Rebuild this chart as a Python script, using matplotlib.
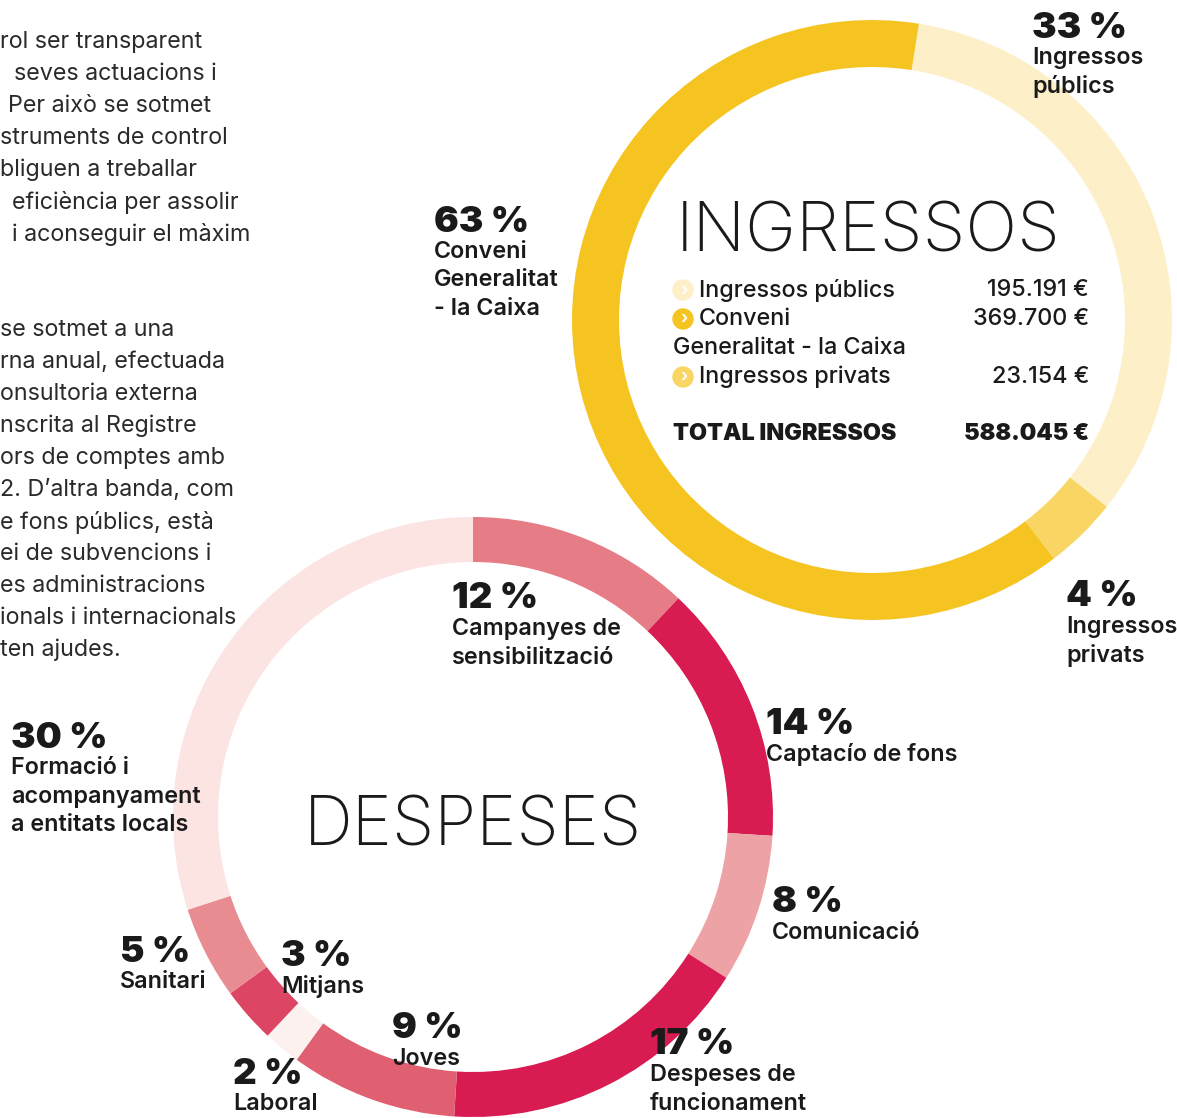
import matplotlib.pyplot as plt
from matplotlib.patches import Circle

plt.rcParams['font.family'] = ['Inter', 'DejaVu Sans']

# Ingressos (clockwise order from top)
ing_labels = ["Ingressos públics", "Ingressos privats", "Conveni Generalitat - la Caixa"]
ing_values = [195191, 23154, 369700]
ing_colors = ["#FDF0C9", "#F9D564", "#F5C421"]
ing_total = "588.045 €"
ing_amounts = ["195.191 €", "23.154 €", "369.700 €"]

# Despeses (clockwise order from top)
desp_labels = ["Campanyes de\nsensibilització", "Captacío de fons", "Comunicació",
               "Despeses de\nfuncionament", "Joves", "Laboral", "Mitjans", "Sanitari",
               "Formació i\nacompanyament\na entitats locals"]
desp_values = [12, 14, 8, 17, 9, 2, 3, 5, 30]
desp_colors = ["#E67C85", "#D81B50", "#EDA3A5", "#D81B50", "#E05F70",
               "#FDF1EF", "#DC4563", "#E88C92", "#FBE4E1"]

para1 = ["rol ser transparent", "seves actuacions i", "Per això se sotmet",
         "struments de control", "bliguen a treballar", "eficiència per assolir",
         "i aconseguir el màxim"]
para1_x = [0, 14, 8, 0, 0, 12, 12]
para2 = ["se sotmet a una", "rna anual, efectuada", "onsultoria externa",
         "nscrita al Registre", "ors de comptes amb", "2. D’altra banda, com",
         "e fons públics, està", "ei de subvencions i", "es administracions",
         "ionals i internacionals", "ten ajudes."]

W, H = 1177, 1118
fig = plt.figure(figsize=(W / 100, H / 100), dpi=100)
ax = fig.add_axes([0, 0, 1, 1])

def Y(y):
    return H - y

ax.pie(ing_values, colors=ing_colors, startangle=81, counterclock=False,
       center=(872, Y(320)), radius=300, wedgeprops=dict(width=47, linewidth=0))
ax.pie(desp_values, colors=desp_colors, startangle=90, counterclock=False,
       center=(473, Y(817)), radius=300, wedgeprops=dict(width=45, linewidth=0))
ax.set_xlim(0, W)
ax.set_ylim(0, H)
ax.set_aspect('auto')
ax.axis('off')

ink = "#1a1a1a"

# left paragraph (cut by page edge)
for i, (t, x) in enumerate(zip(para1, para1_x)):
    ax.text(x, Y(42 + 32 * i), t, fontsize=16.8, color="#2a2a2a", va='center', ha='left')
for i, t in enumerate(para2):
    ax.text(0, Y(330 + 32 * i), t, fontsize=16.8, color="#2a2a2a", va='center', ha='left')

# titles
ax.text(868, Y(233), "INGRESSOS", fontsize=49.5, fontweight='light', color=ink,
        ha='center', va='center')
ax.text(473, Y(827), "DESPESES", fontsize=49, fontweight='light', color=ink,
        ha='center', va='center')

# legend
leg_rows = [(290, 0, "Ingressos públics", ing_amounts[0]),
            (319, 2, "Conveni", ing_amounts[2]),
            (377, 1, "Ingressos privats", ing_amounts[1])]
for y, ci, name, amt in leg_rows:
    ax.add_patch(Circle((683, Y(y)), 10, color=ing_colors[ci], zorder=3))
    ax.text(684, Y(y), "›", fontsize=12, fontweight='bold', color="white",
            ha='center', va='center', zorder=4)
    ax.text(699, Y(y), name, fontsize=16.8, fontweight='medium', color=ink, va='center')
    ax.text(1089, Y(y), amt, fontsize=16.8, fontweight='medium', color=ink,
            va='center', ha='right')
ax.text(673, Y(348), "Generalitat - la Caixa", fontsize=16.8, fontweight='medium',
        color=ink, va='center')
ax.text(673, Y(434), "TOTAL INGRESSOS", fontsize=16.8, fontweight='black', color=ink, va='center')
ax.text(1089, Y(434), ing_total, fontsize=16.8, fontweight='black', color=ink,
        va='center', ha='right')

def label(x, y, pct, text):
    ax.text(x, Y(y + 3), pct, fontsize=26.5, fontweight='black', color=ink, va='center')
    for j, line in enumerate(text.split("\n")):
        ax.text(x, Y(y + 33 + 28.5 * j), line, fontsize=16.8, fontweight='semibold',
                color=ink, va='center')

ing_pos = [(1032, 25), (1066, 594), (434, 219)]
ing_pct = ["33 %", "4 %", "63 %"]
ing_text = ["Ingressos\npúblics", "Ingressos\nprivats", "Conveni\nGeneralitat\n- la Caixa"]
for (x, y), p, t in zip(ing_pos, ing_pct, ing_text):
    label(x, y, p, t)

desp_pos = [(452, 596), (766, 722), (772, 900), (650, 1042), (392, 1026),
            (233, 1071), (281, 954), (120, 949), (11, 735)]
for (x, y), v, t in zip(desp_pos, desp_values, desp_labels):
    label(x, y, f"{v} %", t)

fig.savefig("out.png", dpi=100)
